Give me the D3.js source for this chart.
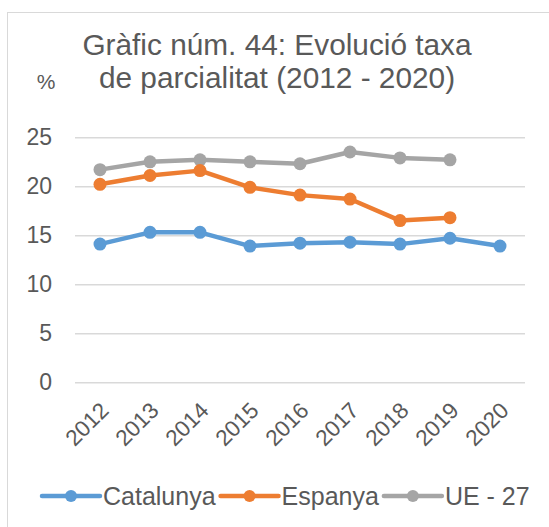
<!DOCTYPE html>
<html>
<head>
<meta charset="utf-8">
<script src="https://cdn.jsdelivr.net/npm/d3@7"></script>
<style>
  html, body { margin: 0; padding: 0; background: #fff; }
  svg { display: block; }
  text { font-family: "Liberation Sans", Arial, sans-serif; fill: #595959; }
</style>
</head>
<body>
<script>
// Part-time employment rate, % (2012 - 2020)
const years = ["2012", "2013", "2014", "2015", "2016", "2017", "2018", "2019", "2020"];
const catalunya = [14.1, 15.3, 15.3, 13.9, 14.2, 14.3, 14.1, 14.7, 13.9];
const espanya = [20.2, 21.1, 21.6, 19.9, 19.1, 18.7, 16.5, 16.8, null];
const ue27 = [21.7, 22.5, 22.7, 22.5, 22.3, 23.5, 22.9, 22.7, null];
const yTicks = [0, 5, 10, 15, 20, 25];
const titleLines = ["Gràfic núm. 44: Evolució taxa", "de parcialitat (2012 - 2020)"];
const unitLabel = "%";

const series = [
  { name: "Catalunya", values: catalunya, color: "#5B9BD5" },
  { name: "Espanya", values: espanya, color: "#ED7D31" },
  { name: "UE - 27", values: ue27, color: "#A5A5A5" }
];

const W = 549, H = 527;
const svg = d3.select("body").append("svg").attr("width", W).attr("height", H);

// chart frame
svg.append("rect")
  .attr("x", 7.5).attr("y", 12.5).attr("width", 600).attr("height", 600)
  .attr("fill", "none").attr("stroke", "#d9d9d9").attr("stroke-width", 1);

const x = d3.scalePoint().domain(years).range([75, 525]).padding(0.5);
const y = d3.scaleLinear().domain([0, 25]).range([382.3, 137.3]);

// title
svg.append("text")
  .attr("text-anchor", "middle")
  .style("font-size", "29.8px")
  .selectAll("tspan").data(titleLines).join("tspan")
  .attr("x", 277).attr("y", (d, i) => 55 + i * 33)
  .text(d => d);

// unit label
svg.append("text")
  .attr("x", 46).attr("y", 89).attr("text-anchor", "middle")
  .style("font-size", "21px")
  .text(unitLabel);

// gridlines and y axis labels
const yAxis = d3.axisLeft(y).tickValues(yTicks).tickSize(-450).tickPadding(23);
const gy = svg.append("g").attr("transform", "translate(75,0)").call(yAxis);
gy.select(".domain").remove();
gy.selectAll(".tick line").attr("stroke", "#d9d9d9").attr("stroke-width", 1.6);
gy.selectAll(".tick text")
  .attr("fill", "#595959")
  .style("font-size", "23px")
  .style("font-family", "'Liberation Sans', Arial, sans-serif");

// x axis labels (rotated)
const xAxis = d3.axisBottom(x).tickSize(0);
const gx = svg.append("g").attr("transform", "translate(0,382.3)").call(xAxis);
gx.select(".domain").remove();
gx.selectAll(".tick text")
  .attr("fill", "#595959")
  .style("font-size", "22.5px")
  .style("font-family", "'Liberation Sans', Arial, sans-serif")
  .attr("text-anchor", "end")
  .attr("x", 0).attr("y", 0).attr("dy", "0.35em")
  .attr("transform", "translate(4,24) rotate(-45)");

// series lines and markers
const line = d3.line()
  .defined(d => d.v !== null)
  .x(d => x(d.year))
  .y(d => y(d.v));

const drawOrder = [series[2], series[1], series[0]];
drawOrder.forEach(s => {
  const pts = years.map((yr, i) => ({ year: yr, v: s.values[i] }));
  const g = svg.append("g");
  g.append("path")
    .datum(pts)
    .attr("d", line)
    .attr("fill", "none")
    .attr("stroke", s.color)
    .attr("stroke-width", 4.5)
    .attr("stroke-linejoin", "round")
    .attr("stroke-linecap", "round");
  g.selectAll("circle")
    .data(pts.filter(d => d.v !== null))
    .join("circle")
    .attr("cx", d => x(d.year))
    .attr("cy", d => y(d.v))
    .attr("r", 6.5)
    .attr("fill", s.color);
});

// legend
const legend = svg.append("g");
let lx = 42;
const ly = 496;
series.forEach(s => {
  legend.append("line")
    .attr("x1", lx).attr("x2", lx + 58)
    .attr("y1", ly).attr("y2", ly)
    .attr("stroke", s.color).attr("stroke-width", 4.5)
    .attr("stroke-linecap", "round");
  legend.append("circle")
    .attr("cx", lx + 29).attr("cy", ly).attr("r", 6)
    .attr("fill", s.color);
  const t = legend.append("text")
    .attr("x", lx + 61).attr("y", ly).attr("dy", "0.35em")
    .style("font-size", "25px")
    .text(s.name);
  lx += 61 + t.node().getComputedTextLength() + 5;
});
</script>
</body>
</html>
